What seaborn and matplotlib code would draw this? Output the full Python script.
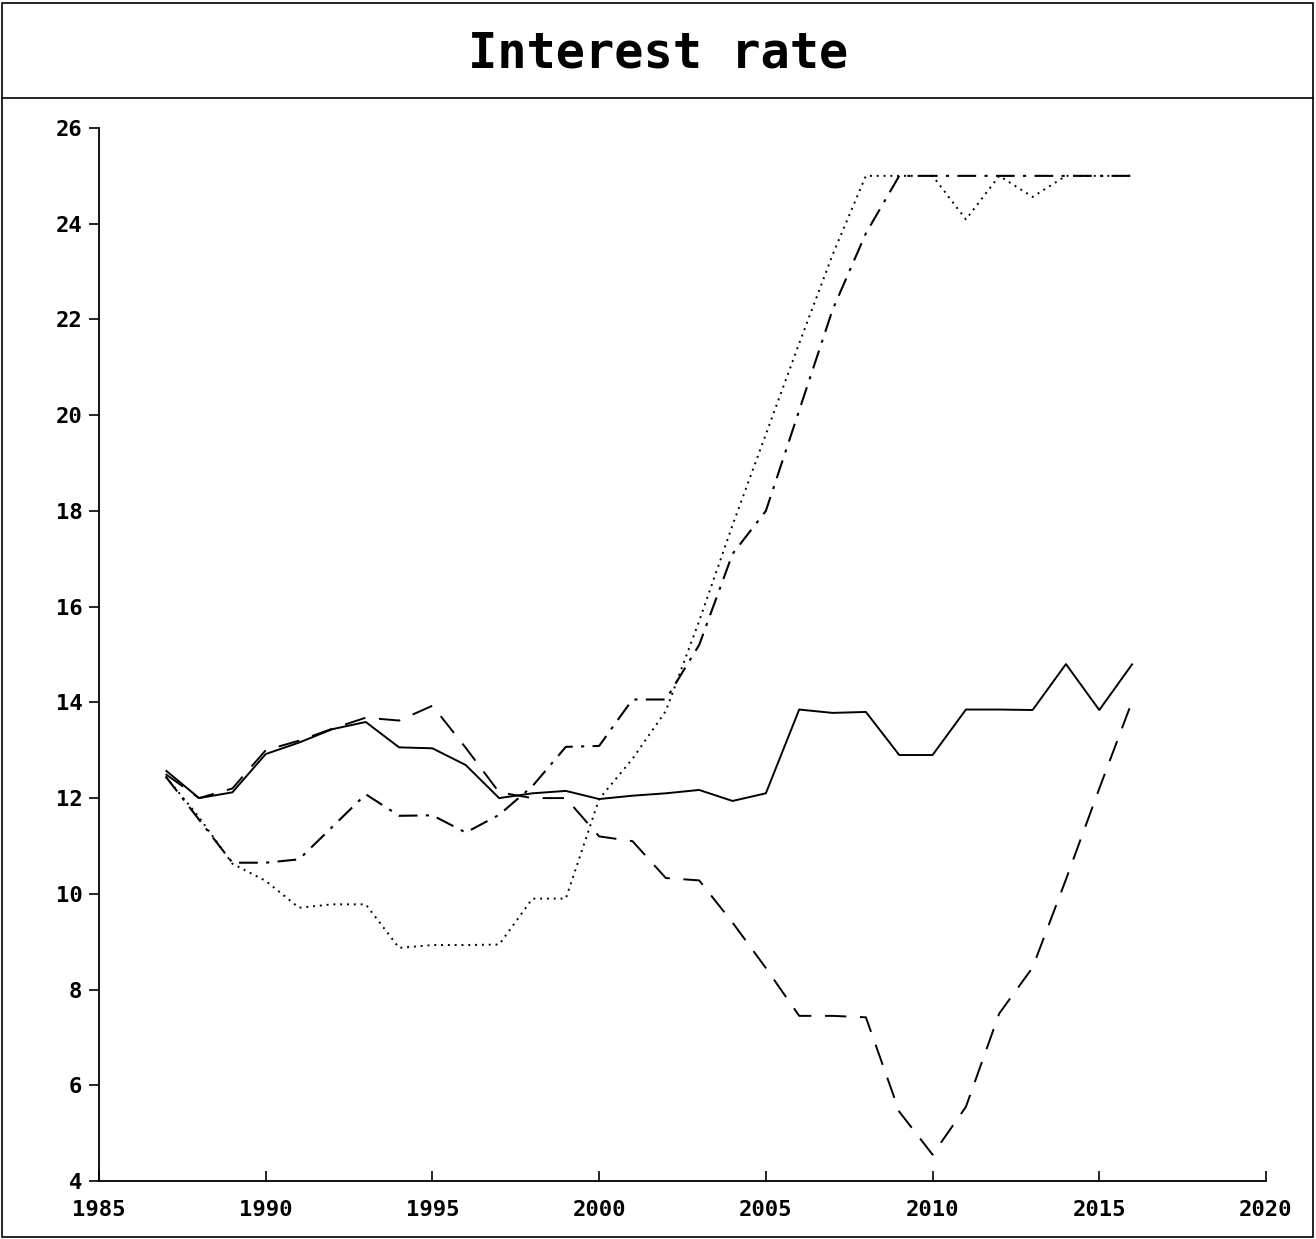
import matplotlib
matplotlib.use("Agg")
import matplotlib.pyplot as plt
from matplotlib.patches import Rectangle
from matplotlib.lines import Line2D
import pandas as pd
import seaborn as sns

# Annual interest-rate paths for four scenarios
years = list(range(1987, 2017))

rate_solid = [12.58, 12.00, 12.12, 12.92, 13.16, 13.44, 13.59, 13.06, 13.04, 12.69,
              12.00, 12.10, 12.15, 11.98, 12.05, 12.10, 12.17, 11.94, 12.10, 13.85,
              13.78, 13.80, 12.90, 12.90, 13.85, 13.85, 13.84, 14.80, 13.84, 14.81]

rate_dashed = [12.50, 12.00, 12.20, 13.00, 13.20, 13.45, 13.68, 13.62, 13.93, 13.05,
               12.12, 12.00, 12.00, 11.20, 11.10, 10.33, 10.28, 9.40, 8.45, 7.45,
               7.45, 7.42, 5.45, 4.55, 5.55, 7.50, 8.46, 10.30, 12.20, 14.05]

rate_dotted = [12.45, 11.60, 10.63, 10.27, 9.71, 9.78, 9.78, 8.87, 8.93, 8.93,
               8.94, 9.90, 9.90, 11.98, 12.82, 13.82, 15.70, 17.70, 19.60, 21.50,
               23.35, 25.00, 25.00, 25.00, 24.09, 25.00, 24.56, 25.00, 25.00, 25.00]

rate_dashdot = [12.45, 11.55, 10.65, 10.65, 10.72, 11.40, 12.08, 11.63, 11.64, 11.28,
                11.65, 12.25, 13.07, 13.09, 14.06, 14.06, 15.20, 17.10, 18.00, 20.10,
                22.20, 23.80, 25.00, 25.00, 25.00, 25.00, 25.00, 25.00, 25.00, 25.00]

title_text = "Interest rate"
x_ticks = [1985, 1990, 1995, 2000, 2005, 2010, 2015, 2020]
y_ticks = [4, 6, 8, 10, 12, 14, 16, 18, 20, 22, 24, 26]

sns.set_style("white")
plt.rcParams["font.family"] = ["DejaVu Sans Mono", "DejaVu Sans"]
plt.rcParams["font.weight"] = "bold"
plt.rcParams["xtick.direction"] = "in"
plt.rcParams["ytick.direction"] = "out"

W, H = 1316, 1239
fig = plt.figure(figsize=(W / 100, H / 100), dpi=100)
fig.patch.set_facecolor("white")

ax = fig.add_axes([99 / W, 1 - 1181 / H, (1266 - 99) / W, (1181 - 128) / H])

series = [
    (rate_solid, (0, ()), 1.4),
    (rate_dashed, (0, (11, 7)), 1.4),
    (rate_dotted, (0, (1, 2.5)), 1.4),
    (rate_dashdot, (0, (9, 4, 1.5, 4)), 1.5),
]
for values, ls, lw in series:
    df = pd.DataFrame({"year": years, "rate": values})
    sns.lineplot(data=df, x="year", y="rate", ax=ax, color="black",
                 linewidth=lw, linestyle=ls, legend=False)

ax.set_xlim(1985, 2020)
ax.set_ylim(4, 26)
ax.set_xticks(x_ticks)
ax.set_yticks(y_ticks)
ax.set_xticklabels([str(v) for v in x_ticks])
ax.set_yticklabels([str(v) for v in y_ticks])
ax.set_xlabel("")
ax.set_ylabel("")

for side in ("top", "right"):
    ax.spines[side].set_visible(False)
for side in ("left", "bottom"):
    ax.spines[side].set_color("black")
    ax.spines[side].set_linewidth(1.3)

ax.tick_params(axis="x", which="major", bottom=True, direction="in", length=7,
               width=1.2, pad=14, labelsize=16, colors="black")
ax.tick_params(axis="y", which="major", left=True, direction="out", length=7,
               width=1.2, pad=5, labelsize=16, colors="black")
for lab in ax.get_xticklabels() + ax.get_yticklabels():
    lab.set_fontweight("bold")
ax.set_facecolor("white")
ax.grid(False)

# Outer frame and title panel
fig.patches.append(Rectangle((2 / W, 2 / H), (W - 5) / W, (H - 5) / H,
                             transform=fig.transFigure, fill=False,
                             edgecolor="black", linewidth=1.2))
fig.lines.append(Line2D([2 / W, (W - 3) / W], [1 - 98 / H, 1 - 98 / H],
                        transform=fig.transFigure, color="black", linewidth=1.2))
fig.text(0.5, 1 - 54 / H, title_text, ha="center", va="center",
         fontsize=35, fontweight="bold", color="black")

fig.savefig("out.png", dpi=100, facecolor="white")
